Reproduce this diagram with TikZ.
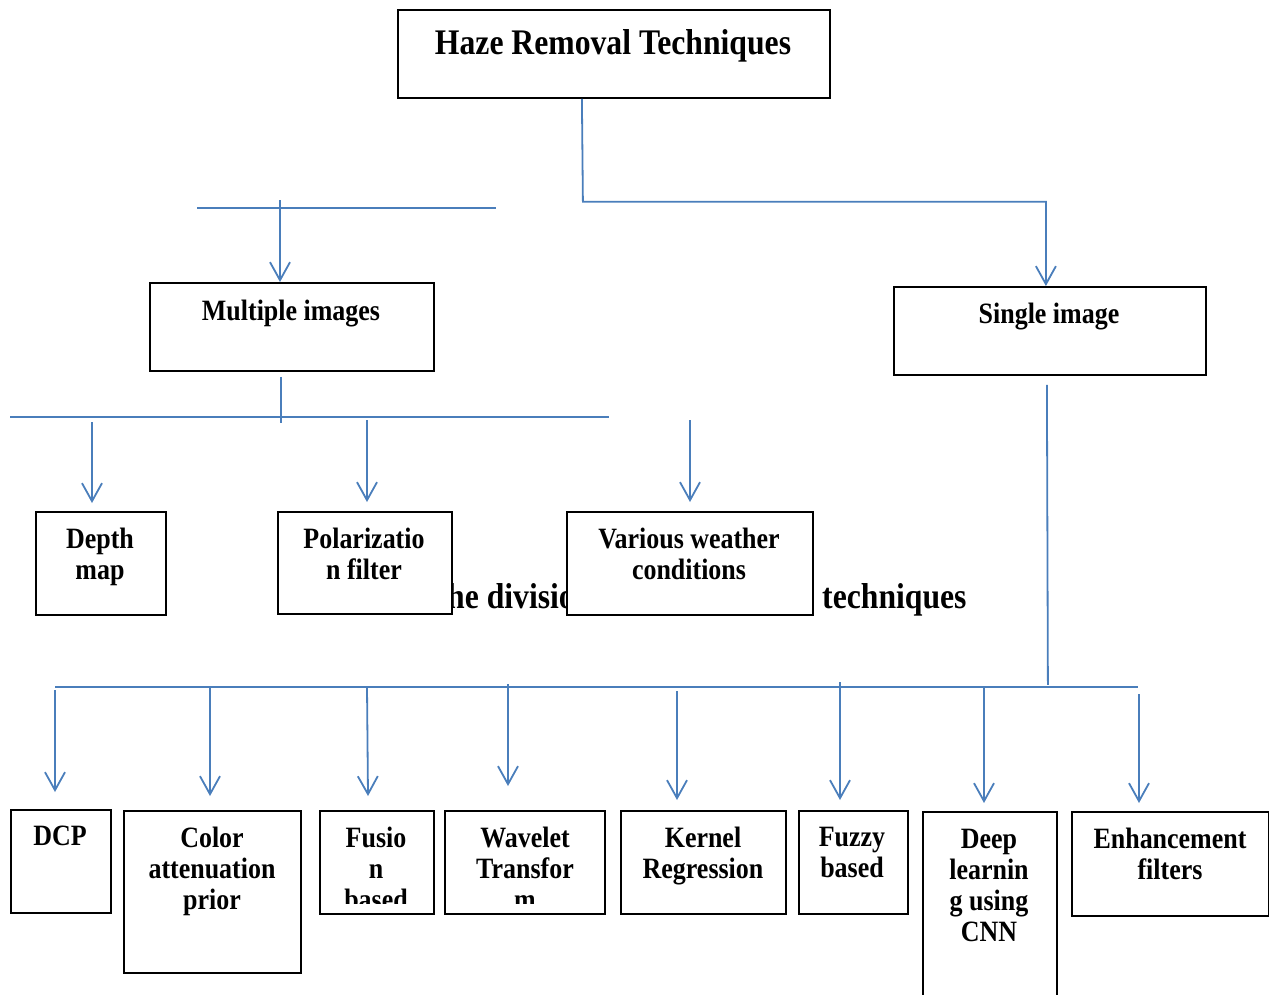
\documentclass[tikz,border=0pt]{standalone}
\usepackage{fontspec}
\setmainfont{Liberation Serif}[FakeStretch=0.88]
\usetikzlibrary{arrows.meta,calc}
\definecolor{lineblue}{HTML}{4A7EBB}
\begin{document}
\begin{tikzpicture}[x=1pt,y=-1pt,
  box/.style={draw=black, line width=1.8pt, fill=white, inner sep=0pt, anchor=north west},
  lbl/.style={font=\bfseries\fontsize{29.5}{31}\selectfont, align=center, anchor=north, inner sep=0pt},
  big/.style={font=\bfseries\fontsize{36}{40}\selectfont, inner sep=0pt},
  conn/.style={draw=lineblue, line width=1.8pt},
  arr/.style={conn, -{Straight Barb[length=18pt,width=20pt,line width=1.8pt]}},
]
\useasboundingbox (0,0) rectangle (1269,994);

% caption fragments (partly hidden behind boxes)
\node[big, anchor=base west] (cap1) at (447,608) {he divisio};
\node[big, anchor=base west] (cap2) at (822,608) {techniques};

% boxes
\node[box, minimum width=432pt, minimum height=88pt] (title) at (397,9) {};
\node[box, minimum width=284pt, minimum height=88pt] (multi) at (149,282) {};
\node[box, minimum width=312pt, minimum height=88pt] (single) at (893,286) {};
\node[box, minimum width=130pt, minimum height=103pt] (depth) at (35,511) {};
\node[box, minimum width=174pt, minimum height=102pt] (polar) at (277,511) {};
\node[box, minimum width=246pt, minimum height=103pt] (weather) at (566,511) {};
\node[box, minimum width=100pt, minimum height=103pt] (dcp) at (10,809) {};
\node[box, minimum width=177pt, minimum height=162pt] (color) at (123,810) {};
\node[box, minimum width=114pt, minimum height=103pt] (fusion) at (319,810) {};
\node[box, minimum width=160pt, minimum height=103pt] (wavelet) at (444,810) {};
\node[box, minimum width=165pt, minimum height=103pt] (kernel) at (620,810) {};
\node[box, minimum width=109pt, minimum height=103pt] (fuzzy) at (798,810) {};
\node[box, minimum width=134pt, minimum height=185pt] (deep) at (922,811) {};
\node[box, minimum width=197pt, minimum height=104pt] (enh) at (1071,811) {};

% labels
\node[big, anchor=north] (titlelbl) at (613,29) {Haze Removal Techniques};
\node[lbl] (multilbl) at (291,300) {Multiple images};
\node[lbl] (singlelbl) at (1049,303) {Single image};
\node[lbl] (depthlbl) at (100,528) {Depth\\map};
\node[lbl] (polarlbl) at (364,528) {Polarizatio\\n filter};
\node[lbl] (weatherlbl) at (689,528) {Various weather\\conditions};
\node[lbl] (dcplbl) at (60,826) {DCP};
\node[lbl] (colorlbl) at (212,827) {Color\\attenuation\\prior};
\begin{scope}
  \clip (319,810) rectangle (433,903);
  \node[lbl] (fusionlbl) at (376,827) {Fusio\\n\\based};
\end{scope}
\begin{scope}
  \clip (444,810) rectangle (604,903);
  \node[lbl] (waveletlbl) at (525,827) {Wavelet\\Transfor\\m};
\end{scope}
\node[lbl] (kernellbl) at (703,827) {Kernel\\Regression};
\node[lbl] (fuzzylbl) at (852,827) {Fuzzy\\based};
\node[lbl] (deeplbl) at (989,829) {Deep\\learnin\\g using\\CNN};
\node[lbl] (enhlbl) at (1170,828) {Enhancement\\filters};

% top connector
\draw[arr] ([xshift=-32pt]title.south) -- ++(1,103) -| ([xshift=-4pt]single.north);

% multiple images branch
\coordinate (h1) at (197,208);
\coordinate (h2) at (496,208);
\draw[conn] (h1) -- (h2);
\coordinate (m0) at (280,200);
\draw[arr] (m0) -- (m0 |- multi.north);

\draw[conn] ([xshift=-11pt,yshift=-5pt]multi.south) -- ++(0,46);
\coordinate (b1) at (10,417);
\coordinate (b2) at (609,417);
\draw[conn] (b1) -- (b2);
\coordinate (d0) at (92,422);
\draw[arr] (d0) -- ($(d0 |- depth.north)+(0,-8)$);
\coordinate (p0) at (367,420);
\draw[arr] (p0) -- ($(p0 |- polar.north)+(0,-9)$);
\coordinate (w0) at (690,420);
\draw[arr] (w0) -- ($(w0 |- weather.north)+(0,-9)$);

% single image branch
\draw[conn] ($(single.south)+(-3,9)$) -- ++(1,300);
\coordinate (s1) at (55,687);
\coordinate (s2) at (1138,687);
\draw[conn] (s1) -- (s2);
\coordinate (a1) at (55,690);
\draw[arr] (a1) -- ($(a1 |- dcp.north)+(0,-17)$);
\coordinate (a2) at (210,687);
\draw[arr] (a2) -- ($(a2 |- color.north)+(0,-14)$);
\coordinate (a3) at (367,687);
\draw[arr] (a3) -- ($(a3 |- fusion.north)+(1,-14)$);
\coordinate (a4) at (508,684);
\draw[arr] (a4) -- ($(a4 |- wavelet.north)+(0,-24)$);
\coordinate (a5) at (677,691);
\draw[arr] (a5) -- ($(a5 |- kernel.north)+(0,-10)$);
\coordinate (a6) at (840,682);
\draw[arr] (a6) -- ($(a6 |- fuzzy.north)+(0,-10)$);
\coordinate (a7) at (984,687);
\draw[arr] (a7) -- ($(a7 |- deep.north)+(0,-8)$);
\coordinate (a8) at (1139,694);
\draw[arr] (a8) -- ($(a8 |- enh.north)+(0,-8)$);
\end{tikzpicture}
\end{document}
